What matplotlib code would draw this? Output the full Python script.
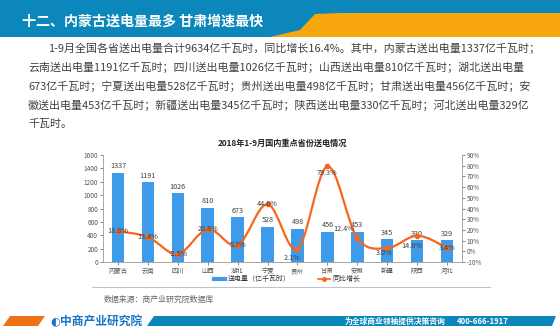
import matplotlib
matplotlib.use("Agg")
import matplotlib.pyplot as plt
import numpy as np
from matplotlib.path import Path
from matplotlib.patches import PathPatch, Polygon, Rectangle
from matplotlib.lines import Line2D

plt.rcParams['font.family'] = ['Noto Sans CJK SC', 'DejaVu Sans']

# data
provinces = ["内蒙古", "云南", "四川", "山西", "湖北", "宁夏", "贵州", "甘肃", "安徽", "新疆", "陕西", "河北"]
power = [1337, 1191, 1026, 810, 673, 528, 498, 456, 453, 345, 330, 329]
growth = [18.8, 13.4, -2.5, 20.8, 5.7, 44.0, 2.1, 79.3, 12.4, 3.0, 14.6, 3.4]
left_ticks = [0, 200, 400, 600, 800, 1000, 1200, 1400, 1600]
right_ticks = [-10, 0, 10, 20, 30, 40, 50, 60, 70, 80, 90]

title = "十二、内蒙古送电量最多 甘肃增速最快"
para = [
    "1-9月全国各省送出电量合计9634亿千瓦时，同比增长16.4%。其中，内蒙古送出电量1337亿千瓦时；",
    "云南送出电量1191亿千瓦时；四川送出电量1026亿千瓦时；山西送出电量810亿千瓦时；湖北送出电量",
    "673亿千瓦时；宁夏送出电量528亿千瓦时；贵州送出电量498亿千瓦时；甘肃送出电量456亿千瓦时；安",
    "徽送出电量453亿千瓦时；新疆送出电量345亿千瓦时；陕西送出电量330亿千瓦时；河北送出电量329亿",
    "千瓦时。",
]
chart_title = "2018年1-9月国内重点省份送电情况"
source = "数据来源：商产业研究院数据库"

BLUE_BAR = "#3d9be9"
ORANGE = "#f7661b"
HEAD_BLUE = "#0b87bb"
HEAD_ORANGE = "#f8a60d"
TXT = "#404040"

W, H = 560, 331
fig = plt.figure(figsize=(W / 100, H / 100), dpi=100)
fig.patch.set_facecolor("white")


def px(x, y):
    return x / W, 1 - y / H


# header band
fig.patches.append(Rectangle((0, 1 - 37 / H), 1, 37 / H, transform=fig.transFigure,
                             facecolor=HEAD_BLUE, edgecolor="none"))
verts = [px(270, 37), px(300, 30), px(315, 14), px(340, 13), px(560, 13), px(560, 37)]
fig.patches.append(Polygon(verts, closed=True, transform=fig.transFigure,
                           facecolor=HEAD_ORANGE, edgecolor="none"))
fig.text(*px(22, 22), title, color="white", fontsize=10.1, fontweight="bold", va="center")

# paragraph
for i, line in enumerate(para):
    x0 = 48 if i == 0 else 28
    fig.text(*px(x0, 48 + i * 19), line, color=TXT, fontsize=7.9, va="center")

fig.text(*px(282, 143), chart_title, color="#222222", fontsize=5.9, fontweight="bold",
         ha="center", va="center")

# chart
ax = fig.add_axes([103 / W, 1 - 262 / H, 359 / W, 107 / H])
x = np.arange(len(provinces))
ax.bar(x, power, width=0.42, color=BLUE_BAR, zorder=2)
for xi, v in zip(x, power):
    ax.text(xi, v + 35, str(v), ha="center", va="bottom", fontsize=5.2, color=TXT)
ax.set_xlim(-0.5, len(provinces) - 0.5)
ax.set_ylim(0, 1600)
ax.set_yticks(left_ticks)
ax.set_xticks(x)
ax.set_xticklabels(provinces)
ax.tick_params(labelsize=4.6, colors="#555555", length=2, width=0.5, pad=1.5)
for s in ["top", "right"]:
    ax.spines[s].set_visible(False)
for s in ["left", "bottom"]:
    ax.spines[s].set_color("#999999")
    ax.spines[s].set_linewidth(0.6)

ax2 = ax.twinx()
ax2.set_ylim(-10, 90)
ax2.set_yticks(right_ticks)
ax2.set_yticklabels([f"{t}%" for t in right_ticks])
ax2.tick_params(labelsize=4.6, colors="#555555", length=2, width=0.5, pad=1.5)
for s in ["top", "left", "bottom"]:
    ax2.spines[s].set_visible(False)
ax2.spines["right"].set_color("#999999")
ax2.spines["right"].set_linewidth(0.6)

# smoothed line (Catmull-Rom as cubic Bezier segments)
g = np.array(growth, dtype=float)
pts = np.column_stack([x, g])
ext = np.vstack([pts[0], pts, pts[-1]])
verts = [tuple(pts[0])]
codes = [Path.MOVETO]
for i in range(len(pts) - 1):
    p0, p1, p2, p3 = ext[i], ext[i + 1], ext[i + 2], ext[i + 3]
    c1 = p1 + (p2 - p0) / 6
    c2 = p2 - (p3 - p1) / 6
    verts += [tuple(c1), tuple(c2), tuple(p2)]
    codes += [Path.CURVE4] * 3
ax2.add_patch(PathPatch(Path(verts, codes), facecolor="none", edgecolor=ORANGE, lw=1.6, zorder=3))
ax2.plot(x, g, "o", color=ORANGE, ms=3, zorder=4)

# label nudges in pixels (dx right, dy down), as placed in the reference
nudge = [(0, 0), (0, 0), (0, 0), (0, 0), (0, 0), (0, 0),
         (-5, 9), (0, 7), (-14, -9), (-3, 5), (-5, 10), (0, 0)]
for xi, v, (dx, dy) in zip(x, g, nudge):
    ax2.annotate(f"{v:.1f}%", (xi, v), xytext=(dx * 0.72, -dy * 0.72), textcoords="offset points",
                 ha="center", va="center", fontsize=5.2, color=TXT, zorder=5)

handles = [Line2D([], [], color=BLUE_BAR, lw=3),
           Line2D([], [], color=ORANGE, lw=1.2, marker="o", ms=2.5)]
fig.legend(handles, ["送电量（亿千瓦时）", "同比增长"], loc="center",
           bbox_to_anchor=px(287, 279), ncol=2, frameon=False, fontsize=5,
           handlelength=1.6, handletextpad=0.4, columnspacing=4, labelcolor="#333333")

fig.lines.append(Line2D([92 / W, 490 / W], [1 - 287 / H] * 2, transform=fig.transFigure,
                        color="#b8c6d6", lw=0.8))
fig.text(*px(104, 299), source, color="#666666", fontsize=5.7, va="center")

# footer
fig.patches.append(Polygon([px(3, 326), px(10, 316), px(45, 316), px(38, 326)], closed=True,
                           transform=fig.transFigure, facecolor="#ee7215", edgecolor="none"))
fig.patches.append(Polygon([px(147, 326), px(154, 316), px(556, 316), px(552, 326)], closed=True,
                           transform=fig.transFigure, facecolor=HEAD_BLUE, edgecolor="none"))
fig.text(*px(50, 321), "◐", color="#1874c4", fontsize=8, va="center", family="DejaVu Sans")
fig.text(*px(60, 321), "中商产业研究院", color="#1874c4", fontsize=8.5, fontweight="bold", va="center")
fig.text(*px(445, 321), "为全球商业领袖提供决策咨询", color="white", fontsize=5.6,
         fontweight="bold", va="center", ha="right")
fig.text(*px(457, 321), "400-666-1917", color="white", fontsize=5.6, fontweight="bold",
         va="center", ha="left")

fig.savefig("out.png", dpi=100)
